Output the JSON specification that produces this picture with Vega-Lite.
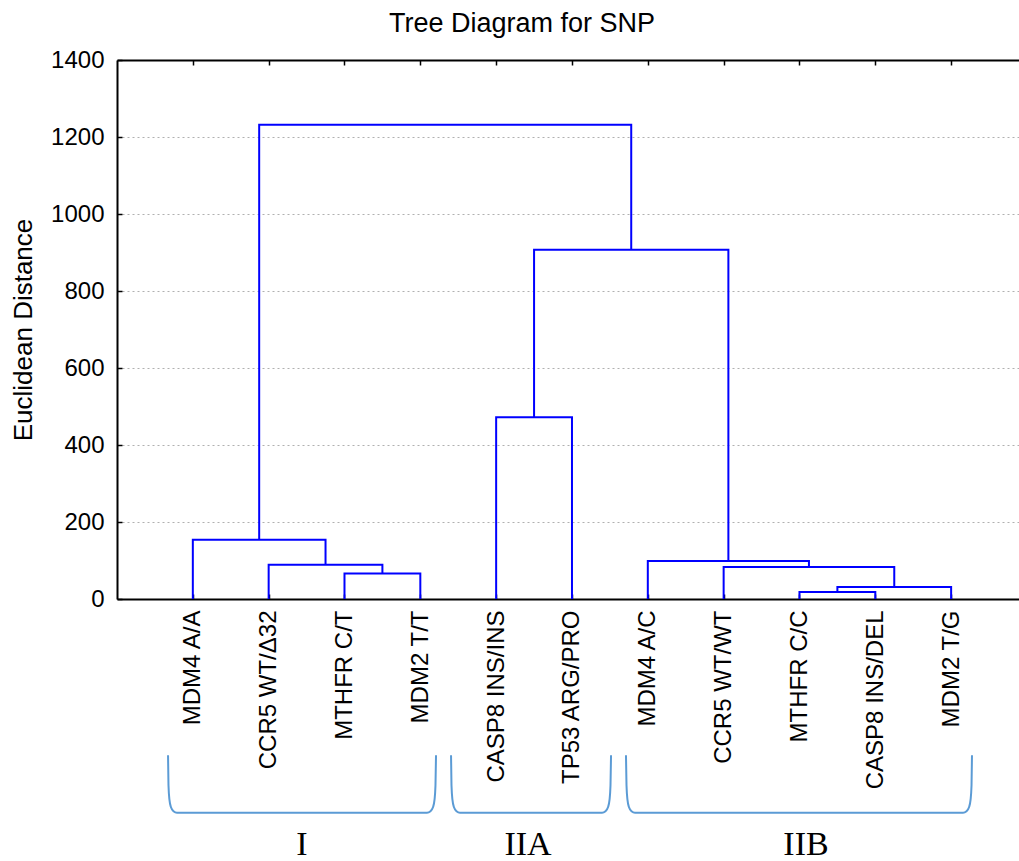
{
  "$schema": "https://vega.github.io/schema/vega-lite/v6.json",
  "autosize": {"type": "none"},
  "width": 902,
  "height": 539,
  "padding": {"left": 117, "top": 60, "right": 0, "bottom": 262},
  "background": "white",
  "config": {
    "view": {"stroke": null},
    "font": "Liberation Sans",
    "axis": {"labelFont": "Liberation Sans", "titleFont": "Liberation Sans", "labelColor": "black", "titleColor": "black", "domainColor": "black", "tickColor": "black"}
  },
  "title": {"text": "Tree Diagram for SNP", "font": "Liberation Sans", "fontSize": 27, "fontWeight": "normal", "color": "black", "offset": 10, "dx": -46},
  "datasets": {
    "tree": [
      {"m": "A", "o": 0, "x": 2, "y": 0}, {"m": "A", "o": 1, "x": 2, "y": 66}, {"m": "A", "o": 2, "x": 3, "y": 66}, {"m": "A", "o": 3, "x": 3, "y": 0},
      {"m": "B", "o": 0, "x": 1, "y": 0}, {"m": "B", "o": 1, "x": 1, "y": 89}, {"m": "B", "o": 2, "x": 2.5, "y": 89}, {"m": "B", "o": 3, "x": 2.5, "y": 66},
      {"m": "C", "o": 0, "x": 0, "y": 0}, {"m": "C", "o": 1, "x": 0, "y": 154}, {"m": "C", "o": 2, "x": 1.75, "y": 154}, {"m": "C", "o": 3, "x": 1.75, "y": 89},
      {"m": "D", "o": 0, "x": 4, "y": 0}, {"m": "D", "o": 1, "x": 4, "y": 472}, {"m": "D", "o": 2, "x": 5, "y": 472}, {"m": "D", "o": 3, "x": 5, "y": 0},
      {"m": "E", "o": 0, "x": 8, "y": 0}, {"m": "E", "o": 1, "x": 8, "y": 18}, {"m": "E", "o": 2, "x": 9, "y": 18}, {"m": "E", "o": 3, "x": 9, "y": 0},
      {"m": "F", "o": 0, "x": 8.5, "y": 18}, {"m": "F", "o": 1, "x": 8.5, "y": 31}, {"m": "F", "o": 2, "x": 10, "y": 31}, {"m": "F", "o": 3, "x": 10, "y": 0},
      {"m": "G", "o": 0, "x": 7, "y": 0}, {"m": "G", "o": 1, "x": 7, "y": 83}, {"m": "G", "o": 2, "x": 9.25, "y": 83}, {"m": "G", "o": 3, "x": 9.25, "y": 31},
      {"m": "H", "o": 0, "x": 6, "y": 0}, {"m": "H", "o": 1, "x": 6, "y": 98.6}, {"m": "H", "o": 2, "x": 8.125, "y": 98.6}, {"m": "H", "o": 3, "x": 8.125, "y": 83},
      {"m": "I", "o": 0, "x": 4.5, "y": 472}, {"m": "I", "o": 1, "x": 4.5, "y": 907}, {"m": "I", "o": 2, "x": 7.0625, "y": 907}, {"m": "I", "o": 3, "x": 7.0625, "y": 98.6},
      {"m": "J", "o": 0, "x": 0.875, "y": 154}, {"m": "J", "o": 1, "x": 0.875, "y": 1232}, {"m": "J", "o": 2, "x": 5.78125, "y": 1232}, {"m": "J", "o": 3, "x": 5.78125, "y": 907}
    ],
    "braces": [
      {"g": "I", "x": -0.327, "y": -406}, {"g": "I", "x": -0.321, "y": -484}, {"g": "I", "x": -0.308, "y": -522}, {"g": "I", "x": -0.288, "y": -541}, {"g": "I", "x": -0.255, "y": -551}, {"g": "I", "x": -0.209, "y": -555},
      {"g": "I", "x": 3.088, "y": -555}, {"g": "I", "x": 3.134, "y": -551}, {"g": "I", "x": 3.167, "y": -541}, {"g": "I", "x": 3.187, "y": -522}, {"g": "I", "x": 3.2, "y": -484}, {"g": "I", "x": 3.207, "y": -406},
      {"g": "IIA", "x": 3.405, "y": -406}, {"g": "IIA", "x": 3.411, "y": -484}, {"g": "IIA", "x": 3.424, "y": -522}, {"g": "IIA", "x": 3.444, "y": -541}, {"g": "IIA", "x": 3.477, "y": -551}, {"g": "IIA", "x": 3.523, "y": -555},
      {"g": "IIA", "x": 5.396, "y": -555}, {"g": "IIA", "x": 5.442, "y": -551}, {"g": "IIA", "x": 5.475, "y": -541}, {"g": "IIA", "x": 5.495, "y": -522}, {"g": "IIA", "x": 5.508, "y": -484}, {"g": "IIA", "x": 5.515, "y": -406},
      {"g": "IIB", "x": 5.712, "y": -406}, {"g": "IIB", "x": 5.719, "y": -484}, {"g": "IIB", "x": 5.732, "y": -522}, {"g": "IIB", "x": 5.752, "y": -541}, {"g": "IIB", "x": 5.785, "y": -551}, {"g": "IIB", "x": 5.831, "y": -555},
      {"g": "IIB", "x": 10.157, "y": -555}, {"g": "IIB", "x": 10.203, "y": -551}, {"g": "IIB", "x": 10.236, "y": -541}, {"g": "IIB", "x": 10.256, "y": -522}, {"g": "IIB", "x": 10.269, "y": -484}, {"g": "IIB", "x": 10.275, "y": -406}
    ],
    "groups": [
      {"label": "I", "x": 1.44, "y": -665},
      {"label": "IIA", "x": 4.42, "y": -665},
      {"label": "IIB", "x": 8.086, "y": -665}
    ]
  },
  "resolve": {"axis": {"x": "independent"}},
  "layer": [
    {
      "data": {"name": "tree"},
      "mark": {"type": "line", "color": "#0000ff", "strokeWidth": 2, "strokeJoin": "miter", "clip": false},
      "encoding": {
        "x": {"field": "x", "type": "quantitative", "scale": {"domain": [-1, 10.895], "nice": false, "zero": false},
          "axis": {"orient": "bottom", "values": [0,1,2,3,4,5,6,7,8,9,10], "title": null, "grid": false,
            "labelExpr": "['MDM4 A/A','CCR5 WT/Δ32','MTHFR C/T','MDM2 T/T','CASP8 INS/INS','TP53 ARG/PRO','MDM4 A/C','CCR5 WT/WT','MTHFR C/C','CASP8 INS/DEL','MDM2 T/G'][datum.value]",
            "labelAngle": -90, "labelFontSize": 24, "labelPadding": 16, "tickSize": -5, "tickWidth": 1.5, "domainWidth": 2, "labelOverlap": false, "labelFlush": false, "labelBound": false}},
        "y": {"field": "y", "type": "quantitative", "scale": {"domain": [0, 1400], "nice": false},
          "axis": {"title": "Euclidean Distance", "titleFontSize": 26, "titleFontWeight": "normal", "titlePadding": 14,
            "values": [0,100,200,300,400,500,600,700,800,900,1000,1100,1200,1300,1400],
            "labelExpr": "datum.value % 200 === 0 ? datum.label : ''",
            "format": "d", "labelFontSize": 24, "labelPadding": 18, "tickSize": -5, "tickWidth": 1.5, "domainWidth": 2,
            "grid": true, "gridColor": "#b0b0b0", "gridDash": [2, 3], "gridWidth": 1,
            "gridOpacity": {"condition": {"test": "datum.value % 200 === 0 && datum.value > 0 && datum.value < 1400", "value": 1}, "value": 0}}},
        "detail": {"field": "m"},
        "order": {"field": "o"}
      }
    },
    {
      "data": {"name": "braces"},
      "mark": {"type": "line", "color": "#5b9bd5", "strokeWidth": 2, "interpolate": "monotone", "clip": false},
      "encoding": {
        "x": {"field": "x", "type": "quantitative",
          "axis": {"orient": "top", "values": [0,1,2,3,4,5,6,7,8,9,10], "labels": false, "title": null, "grid": false, "tickSize": -5, "tickWidth": 1.5, "domainWidth": 2}},
        "y": {"field": "y", "type": "quantitative"},
        "detail": {"field": "g"}
      }
    },
    {
      "data": {"name": "groups"},
      "mark": {"type": "text", "font": "Liberation Serif", "fontSize": 34, "align": "center", "baseline": "alphabetic", "color": "black", "clip": false},
      "encoding": {
        "x": {"field": "x", "type": "quantitative", "axis": null},
        "y": {"field": "y", "type": "quantitative"},
        "text": {"field": "label"}
      }
    }
  ]
}
